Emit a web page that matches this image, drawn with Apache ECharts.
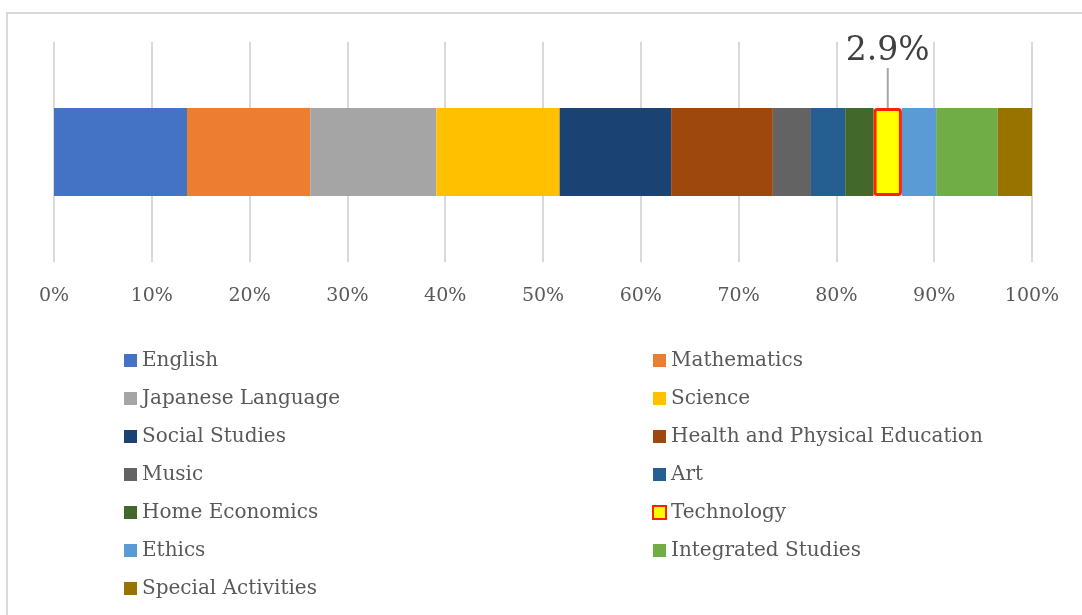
<!DOCTYPE html>
<html>
<head>
<meta charset="utf-8">
<script src="https://cdn.jsdelivr.net/npm/echarts@6/dist/echarts.min.js"></script>
<style>
  html, body { margin: 0; padding: 0; background: #fff; }
  #main { width: 1082px; height: 615px; }
</style>
</head>
<body>
<div id="main"></div>
<script>
var subjects = ['English', 'Mathematics', 'Japanese Language', 'Science', 'Social Studies',
  'Health and Physical Education', 'Music', 'Art', 'Home Economics', 'Technology',
  'Ethics', 'Integrated Studies', 'Special Activities']
var shares = [13.6, 12.6, 12.9, 12.6, 11.4, 10.4, 3.9, 3.5, 2.9, 2.9, 3.5, 6.3, 3.5]
var colors = ['#4472C4', '#ED7D31', '#A5A5A5', '#FFC000', '#1A4374', '#9E480E', '#636363',
  '#255E91', '#43682B', '#FFFF00', '#5B9BD5', '#70AD47', '#997300']
var xTicks = [0, 10, 20, 30, 40, 50, 60, 70, 80, 90, 100]
var highlight = 'Technology'

var font = 'DejaVu Serif'
var chart = echarts.init(document.getElementById('main'))

var series = []
for (let i = 0; i < subjects.length; i++) {
  var s = {
    name: subjects[i],
    type: 'bar',
    stack: 'total',
    barWidth: 88,
    data: [shares[i]],
    itemStyle: { color: colors[i] },
    emphasis: { disabled: true }
  }
  if (subjects[i] == highlight) {
    s.itemStyle.borderColor = '#FF2000'
    s.itemStyle.borderWidth = 3
    s.itemStyle.borderRadius = 2
    s.label = {
      show: true,
      position: 'top',
      distance: 4,
      formatter: '{c}%',
      fontFamily: font,
      fontSize: 33,
      color: '#404040'
    }
    s.labelLayout = { dy: -36 }
    s.labelLine = { show: true, lineStyle: { color: '#A6A6A6', width: 2 } }
  }
  series.push(s)
}

// left column / right column of the legend
var leftLegend = [], rightLegend = []
subjects.forEach((n, i) => { (i % 2 == 0 ? leftLegend : rightLegend).push(n) })

var legendBase = {
  orient: 'vertical',
  top: 345,
  itemWidth: 13,
  itemHeight: 13,
  itemGap: 17,
  icon: 'rect',
  textStyle: { fontFamily: font, fontSize: 20, color: '#595959', lineHeight: 21 }
}

var options = {
  backgroundColor: '#fff',
  animation: false,
  color: colors,
  grid: {
    left: 54,
    right: 50,
    top: 42,
    height: 220
  },
  xAxis: {
    type: 'value',
    min: xTicks[0],
    max: xTicks[xTicks.length - 1],
    interval: 10,
    axisLine: { show: false },
    axisTick: { show: false },
    axisLabel: {
      formatter: '{value}%',
      margin: 25,
      fontFamily: font,
      fontSize: 19,
      color: '#595959'
    },
    splitLine: { lineStyle: { color: '#D9D9D9', width: 2 } }
  },
  yAxis: {
    type: 'category',
    data: [''],
    show: false
  },
  legend: [
    Object.assign({}, legendBase, { left: 119, data: leftLegend }),
    Object.assign({}, legendBase, { left: 647, data: rightLegend })
  ],
  graphic: [{
    type: 'rect',
    shape: { x: 7, y: 13, width: 1100, height: 640 },
    style: { fill: 'none', stroke: '#D9D9D9', lineWidth: 2 },
    silent: true
  }],
  series: series
}
chart.setOption(options)
</script>
</body>
</html>
